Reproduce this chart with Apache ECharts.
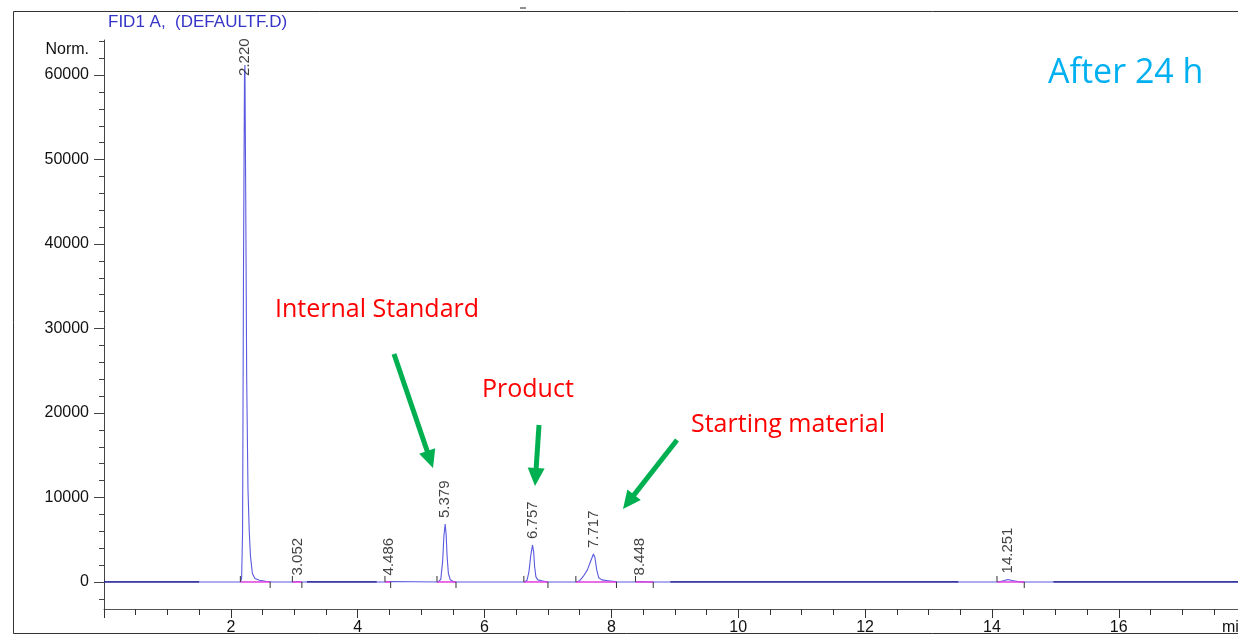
<!DOCTYPE html>
<html><head><meta charset="utf-8">
<script src="https://cdn.jsdelivr.net/npm/echarts@6/dist/echarts.min.js"></script>
<style>html,body{margin:0;padding:0;background:#fff}#c{width:1238px;height:636px}</style>
</head><body><div id="c"></div>
<script>
// ---- data ----
const traceTime = [0, 1.5, 2.15, 2.17, 2.185, 2.20, 2.215, 2.222, 2.235, 2.25, 2.27, 2.29, 2.31, 2.34, 2.38, 2.45, 2.55, 2.65,
  2.99, 3.05, 3.11, 4.44, 4.49, 4.52,
  5.27, 5.31, 5.34, 5.36, 5.379, 5.395, 5.41, 5.43, 5.46, 5.52,
  6.63, 6.67, 6.70, 6.73, 6.757, 6.775, 6.79, 6.81, 6.84, 6.90, 6.99,
  7.45, 7.50, 7.56, 7.62, 7.67, 7.717, 7.74, 7.77, 7.80, 7.85, 7.95, 8.05, 8.10,
  8.40, 8.45, 8.60, 14.10, 14.18, 14.251, 14.32, 14.45, 17.88];
const traceSignal = [0, 0, 0, 400, 6000, 38000, 60000, 61200, 45000, 24000, 11000, 6000, 3000, 1000, 400, 200, 80, 0,
  0, 60, 0, 0, 60, 0,
  0, 300, 2500, 5500, 6860, 5600, 3000, 1000, 250, 0,
  0, 200, 1200, 3200, 4380, 3500, 1800, 600, 250, 150, 0,
  0, 150, 700, 1400, 2400, 3310, 2900, 1400, 500, 250, 150, 50, 0,
  0, 60, 0, 0, 150, 300, 180, 0, 0];
const peakRT     = [2.220, 3.052, 4.486, 5.379, 6.757, 7.717, 8.448, 14.251];
const peakHeight = [61200, 60, 60, 6860, 4380, 3310, 60, 300];
const peakStart  = [2.15, 2.97, 4.43, 5.25, 6.62, 7.44, 8.38, 14.08];
const peakEnd    = [2.62, 3.12, 4.52, 5.55, 7.00, 8.08, 8.66, 14.51];
const navyBaseline = [[0, 1.5], [3.2, 4.3], [8.93, 13.47], [14.97, 17.88]];
const yTickLabels = [0, 10000, 20000, 30000, 40000, 50000, 60000];
const xTickLabels = [2, 4, 6, 8, 10, 12, 14, 16];
const titleText = 'FID1 A,  (DEFAULTF.D)';
const yUnit = 'Norm.';
const xUnit = 'min';
const notes = ['Internal Standard', 'Product', 'Starting material', 'After 24 h'];

// ---- build ----
const FONT = '"Liberation Sans", Arial, sans-serif';
const yMinor = []; for (let v = -2000; v <= 64000; v += 2000) yMinor.push(v);

const chart = echarts.init(document.getElementById('c'), null, {renderer: 'canvas'});
const trace = traceTime.map((t, i) => [t, traceSignal[i]]);
const peaksSE = peakStart.map((s, i) => [s, peakEnd[i]]);
const labelData = peakRT.map((t, i) => (i === 0
  ? {value: [t, peakHeight[i]], label: {distance: -12}}
  : {value: [t, peakHeight[i]]}));

function hLine(color, width) {
  return function (params, api) {
    const p1 = api.coord([api.value(0), 0]);
    const p2 = api.coord([api.value(1), 0]);
    return {type: 'line', shape: {x1: p1[0], y1: p1[1], x2: p2[0], y2: p2[1]},
      style: {stroke: color, lineWidth: width}};
  };
}

const option = {
  animation: false,
  backgroundColor: '#fff',
  title: {text: titleText, left: 103, top: 9,
    textStyle: {fontFamily: FONT, fontSize: 17, fontWeight: 'normal', color: '#3535c8'}},
  grid: {left: 104, right: 0, top: 40, bottom: 27, containLabel: false},
  xAxis: {
    type: 'value', min: 0, max: 17.88, interval: 2, position: 'bottom',
    axisLine: {show: true, onZero: false, lineStyle: {color: '#555', width: 1}},
    axisTick: {show: true, length: 9, lineStyle: {color: '#333'}},
    minorTick: {show: true, splitNumber: 4, length: 6, lineStyle: {color: '#333'}},
    axisLabel: {margin: 11, fontFamily: FONT, fontSize: 16, color: '#111', showMinLabel: false, showMaxLabel: false,
      formatter: v => (xTickLabels.indexOf(v) >= 0 ? String(v) : '')},
    splitLine: {show: false}, minorSplitLine: {show: false}
  },
  yAxis: [{
    type: 'value', min: -3200, max: 64150, position: 'left',
    axisLine: {show: true, onZero: false, lineStyle: {color: '#444', width: 1}},
    axisTick: {show: true, customValues: yTickLabels, length: 10, lineStyle: {color: '#444'}},
    axisLabel: {customValues: yTickLabels, margin: 15, fontFamily: FONT, fontSize: 16, color: '#111',
      formatter: v => String(v)},
    splitLine: {show: false}
  }, {
    type: 'value', min: -3200, max: 64150, position: 'left', offset: 0,
    axisLine: {show: false, onZero: false},
    axisTick: {show: true, customValues: yMinor, length: 5, lineStyle: {color: '#444'}},
    axisLabel: {show: false}, splitLine: {show: false}
  }],
  series: [{
    type: 'line', data: trace, showSymbol: false, symbol: 'none',
    lineStyle: {color: '#5a5ae0', width: 1.1}, z: 2
  }, {
    type: 'custom', data: navyBaseline, encode: {x: [0, 1]}, renderItem: hLine('#16168a', 1.3), z: 3
  }, {
    type: 'custom', data: peaksSE, encode: {x: [0, 1]}, renderItem: hLine('#e03ee0', 1.5), z: 4
  }, {
    type: 'custom', data: peaksSE, encode: {x: [0, 1]}, z: 5,
    renderItem: function (params, api) {
      const a = api.coord([api.value(0), 0]);
      const b = api.coord([api.value(1), 0]);
      return {type: 'group', children: [
        {type: 'line', shape: {x1: a[0], y1: a[1], x2: a[0], y2: a[1] - 6}, style: {stroke: '#333', lineWidth: 1}},
        {type: 'line', shape: {x1: b[0], y1: b[1], x2: b[0], y2: b[1] + 6}, style: {stroke: '#333', lineWidth: 1}}
      ]};
    }
  }, {
    type: 'scatter', data: labelData, symbolSize: 2, itemStyle: {color: 'rgba(0,0,0,0)'}, z: 6,
    labelLayout: {hideOverlap: false},
    label: {show: true, position: 'top', distance: 5, rotate: 90, align: 'left', verticalAlign: 'middle',
      formatter: p => p.value[0].toFixed(3), fontFamily: FONT, fontSize: 15, color: '#111'}
  }]
};
chart.setOption(option);

// ---- annotations (layout in pixels) ----
const NOTE_FONT = '"Open Sans", "Noto Sans", sans-serif';
const G = '#00b050';
function arrow(x1, y1, x2, y2) {
  const dx = x2 - x1, dy = y2 - y1, L = Math.hypot(dx, dy);
  const ux = dx / L, uy = dy / L, hl = 18, hw = 8.5;
  const bx = x2 - ux * hl, by = y2 - uy * hl;
  return {type: 'group', silent: true, children: [
    {type: 'line', shape: {x1: x1, y1: y1, x2: bx + ux * 2, y2: by + uy * 2}, style: {stroke: G, lineWidth: 5}},
    {type: 'polygon', shape: {points: [[x2, y2], [bx - uy * hw, by + ux * hw], [bx + uy * hw, by - ux * hw]]}, style: {fill: G}}
  ]};
}
function note(text, x, y, size, color) {
  return {type: 'text', x: x, y: y, silent: true,
    style: {text: text, fill: color, font: size + 'px ' + NOTE_FONT, align: 'left', verticalAlign: 'middle'}};
}
chart.setOption({graphic: [
  {type: 'rect', shape: {x: 13.5, y: 11.5, width: 1400, height: 622}, style: {fill: 'none', stroke: '#333', lineWidth: 1}, silent: true, z: -1},
  {type: 'line', shape: {x1: 520, y1: 8, x2: 526, y2: 8}, style: {stroke: '#222', lineWidth: 1}},
  {type: 'text', x: 89, y: 50, style: {text: yUnit, font: '16px ' + FONT, fill: '#111', align: 'right', verticalAlign: 'middle'}},
  {type: 'text', x: 1222, y: 620, style: {text: xUnit, font: '16px ' + FONT, fill: '#111', align: 'left', verticalAlign: 'top'}},
  note(notes[0], 275, 310, 25, '#ff0000'),
  note(notes[1], 482, 390, 25, '#ff0000'),
  note(notes[2], 691, 425, 25, '#ff0000'),
  note(notes[3], 1048, 73, 34, '#00b0f0'),
  arrow(394, 354, 433, 468),
  arrow(539, 425, 535, 486),
  arrow(677, 440, 623, 509)
]});
</script></body></html>
